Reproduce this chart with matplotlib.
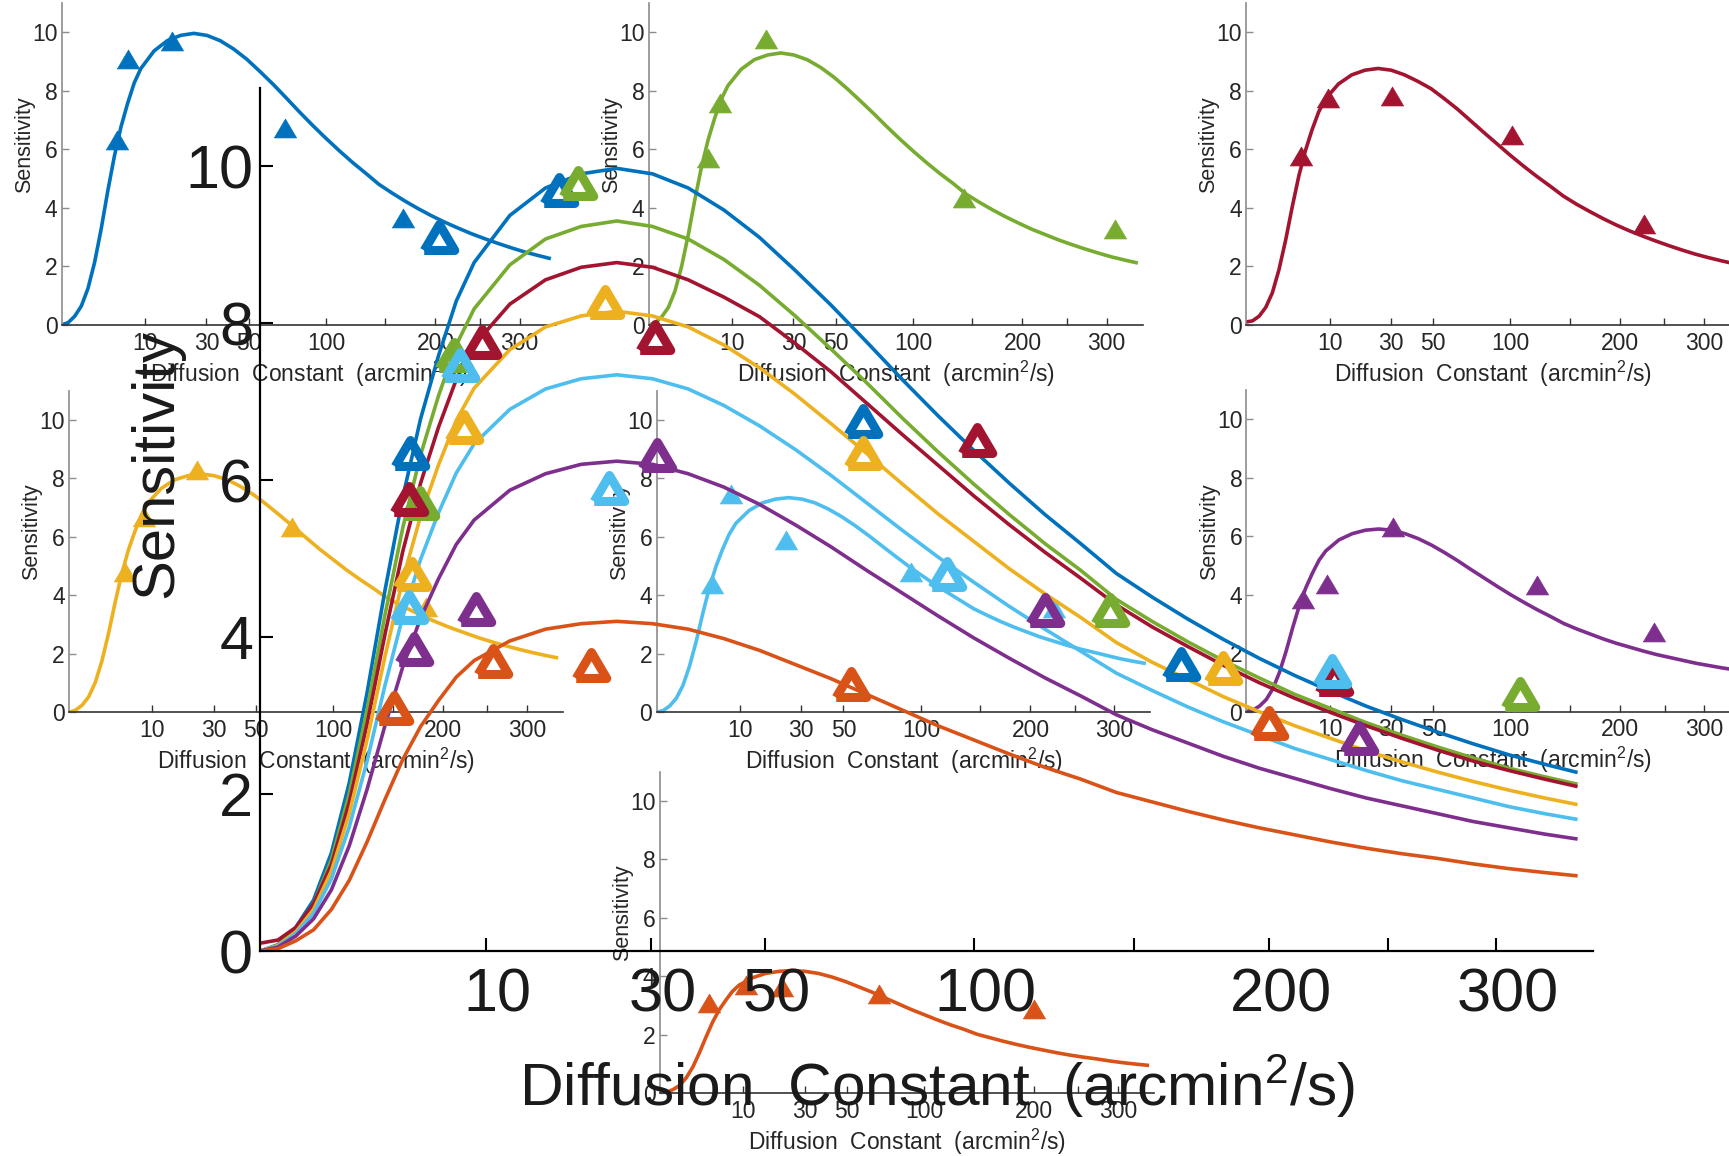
import numpy as np
import matplotlib
matplotlib.use('Agg')
import matplotlib.pyplot as plt
from matplotlib.transforms import ScaledTranslation

plt.rcParams['font.family'] = ['Liberation Sans', 'DejaVu Sans']
plt.rcParams['mathtext.fontset'] = 'custom'
plt.rcParams['mathtext.rm'] = 'Liberation Sans'
plt.rcParams['mathtext.default'] = 'regular'

# fitted curves (x = diffusion constant, arcmin^2/s)
fit_d = [0, 0.0625, 0.25, 0.5625, 1, 1.5625, 2.25, 3.0625, 4, 5.0625, 6.25, 7.5625, 9,
         12.25, 16, 20.25, 25, 30.25, 36, 42.25, 49, 56.25, 64, 72.25, 81, 90.25, 100,
         110.25, 121, 132.25, 144, 156.25, 169, 182.25, 196, 210.25, 225, 240.25, 256,
         272.25, 289, 306.25, 324, 340]
fit_blue = [0, 0.08, 0.30, 0.65, 1.25, 2.14, 3.29, 4.59, 5.78, 6.78, 7.58, 8.28, 8.77,
            9.37, 9.72, 9.90, 9.97, 9.90, 9.72, 9.44, 9.09, 8.67, 8.23, 7.76, 7.28, 6.82,
            6.38, 5.96, 5.56, 5.19, 4.81, 4.51, 4.23, 3.97, 3.73, 3.51, 3.31, 3.12, 2.95,
            2.79, 2.64, 2.50, 2.38, 2.28]
fit_green = [0, 0.07, 0.28, 0.60, 1.16, 2.00, 3.07, 4.28, 5.39, 6.32, 7.07, 7.72, 8.18,
             8.74, 9.07, 9.23, 9.30, 9.23, 9.07, 8.81, 8.48, 8.09, 7.67, 7.24, 6.79, 6.36,
             5.95, 5.56, 5.19, 4.85, 4.48, 4.20, 3.94, 3.70, 3.48, 3.27, 3.09, 2.91, 2.75,
             2.60, 2.46, 2.33, 2.22, 2.13]
fit_red = [0.10, 0.14, 0.30, 0.60, 1.10, 1.89, 2.89, 4.03, 5.09, 5.96, 6.67, 7.28, 7.72,
           8.24, 8.55, 8.71, 8.77, 8.71, 8.55, 8.33, 8.08, 7.74, 7.38, 6.98, 6.58, 6.19,
           5.80, 5.43, 5.08, 4.75, 4.41, 4.13, 3.88, 3.64, 3.42, 3.22, 3.04, 2.87, 2.71,
           2.56, 2.42, 2.30, 2.19, 2.10]
fit_yellow = [0, 0.07, 0.24, 0.53, 1.02, 1.75, 2.69, 3.75, 4.73, 5.54, 6.19, 6.76, 7.17,
              7.66, 7.95, 8.09, 8.15, 8.09, 7.95, 7.72, 7.43, 7.09, 6.72, 6.34, 5.95, 5.57,
              5.22, 4.87, 4.55, 4.25, 3.93, 3.68, 3.46, 3.24, 3.05, 2.87, 2.71, 2.55, 2.41,
              2.28, 2.16, 2.05, 1.95, 1.87]
fit_cyan = [0, 0.06, 0.22, 0.48, 0.92, 1.58, 2.42, 3.38, 4.26, 4.99, 5.58, 6.09, 6.46,
            6.90, 7.16, 7.29, 7.34, 7.29, 7.16, 6.95, 6.69, 6.39, 6.06, 5.71, 5.36, 5.02,
            4.70, 4.39, 4.10, 3.82, 3.54, 3.32, 3.11, 2.92, 2.75, 2.58, 2.44, 2.30, 2.17,
            2.06, 1.95, 1.84, 1.75, 1.68]
fit_purple = [0, 0.05, 0.19, 0.41, 0.78, 1.34, 2.06, 2.87, 3.62, 4.24, 4.74, 5.18, 5.49,
              5.87, 6.08, 6.20, 6.24, 6.20, 6.08, 5.91, 5.69, 5.43, 5.15, 4.85, 4.56, 4.27,
              3.99, 3.73, 3.48, 3.25, 3.01, 2.82, 2.65, 2.48, 2.33, 2.20, 2.07, 1.95, 1.85,
              1.75, 1.65, 1.57, 1.49, 1.43]
fit_orange = [0, 0.03, 0.13, 0.27, 0.53, 0.90, 1.39, 1.93, 2.44, 2.86, 3.19, 3.49, 3.70,
              3.95, 4.10, 4.17, 4.20, 4.17, 4.10, 3.98, 3.83, 3.65, 3.47, 3.27, 3.07, 2.87,
              2.69, 2.51, 2.34, 2.19, 2.02, 1.90, 1.78, 1.67, 1.57, 1.48, 1.39, 1.31, 1.24,
              1.18, 1.11, 1.05, 1.00, 0.96]

# measured points for each condition
pts_blue_d = [4.4, 6.3, 17.6, 71.5, 166.7]
pts_blue_s = [6.34, 9.10, 9.70, 6.75, 3.66]
pts_green_d = [5.05, 7.36, 19.8, 142, 311.6]
pts_green_s = [5.71, 7.59, 9.78, 4.34, 3.28]
pts_red_d = [4.34, 9.64, 30.6, 101, 226.5]
pts_red_s = [5.76, 7.76, 7.82, 6.51, 3.46]
pts_yellow_d = [4.56, 8.17, 23.4, 71.3, 182]
pts_yellow_s = [4.80, 6.68, 8.27, 6.34, 3.61]
pts_cyan_d = [4.34, 7.85, 23.9, 92.7, 225.6]
pts_cyan_s = [4.38, 7.47, 5.90, 4.80, 3.57]
pts_purple_d = [4.64, 9.18, 30.9, 121, 237]
pts_purple_s = [3.85, 4.36, 6.32, 4.34, 2.72]
pts_orange_d = [3.5, 10.7, 21.5, 68.5, 200]
pts_orange_s = [3.10, 3.70, 3.65, 3.40, 2.90]

x_ticks = [10, 30, 50, 100, 150, 200, 250, 300]
x_ticklabels = ['10', '30', '50', '100', '', '200', '', '300']
y_ticks = [0, 2, 4, 6, 8, 10]
x_label = 'Diffusion  Constant  (arcmin$^2$/s)'
y_label = 'Sensitivity'

series = [
    ('#0072BD', fit_blue, pts_blue_d, pts_blue_s),
    ('#77AC30', fit_green, pts_green_d, pts_green_s),
    ('#A2142F', fit_red, pts_red_d, pts_red_s),
    ('#EDB120', fit_yellow, pts_yellow_d, pts_yellow_s),
    ('#4DBEEE', fit_cyan, pts_cyan_d, pts_cyan_s),
    ('#7E2F8E', fit_purple, pts_purple_d, pts_purple_s),
    ('#D95319', fit_orange, pts_orange_d, pts_orange_s),
]

# matlab-like flat triangle
tri = [(-1, -0.85), (1, -0.85), (0, 0.85), (-1, -0.85)]


def fwd(x):
    return np.sqrt(np.maximum(x, 0))


def inv(x):
    return np.square(x)


def setup_axes(ax):
    ax.set_xscale('function', functions=(fwd, inv))
    ax.set_xlim(0, 349)
    ax.set_ylim(0, 11)
    ax.set_facecolor('none')
    ax.spines['top'].set_visible(False)
    ax.spines['right'].set_visible(False)
    ax.set_xticks(x_ticks)
    ax.set_xticklabels(x_ticklabels)
    ax.set_yticks(y_ticks)
    ax.minorticks_off()


fig = plt.figure(figsize=(17.29, 11.56), dpi=100)

# small panels, one per condition (left, bottom in figure fraction)
inset_pos = [
    (0.0356, 0.7189),
    (0.3751, 0.7189),
    (0.7206, 0.7189),
    (0.0398, 0.3838),
    (0.3797, 0.3838),
    (0.7209, 0.3845),
    (0.3816, 0.0542),
]
for (left, bottom), (col, fit, pd, ps) in zip(inset_pos, series):
    ax = fig.add_axes([left, bottom, 0.2857, 0.2783])
    setup_axes(ax)
    ax.spines['left'].set_color('#8c8c8c')
    ax.spines['bottom'].set_color('#333333')
    ax.spines['left'].set_linewidth(1.2)
    ax.spines['bottom'].set_linewidth(1.2)
    ax.tick_params(direction='in', length=5, width=1, labelsize=16.5,
                   labelcolor='#262626')
    ax.tick_params(axis='x', pad=5, color='#333333')
    ax.tick_params(axis='y', pad=3, color='#8c8c8c')
    ax.plot(fit_d, fit, color=col, lw=2.6, zorder=2)
    ax.plot(pd, ps, ls='none', marker=tri, ms=16, color=col, mew=0.5, zorder=3)
    ax.text(0.5, -0.176, x_label, transform=ax.transAxes, ha='center',
            va='baseline', fontsize=16.5, color='#262626')
    ax.text(-0.064, 0.56, y_label, transform=ax.transAxes, rotation=90,
            rotation_mode='anchor', ha='center', va='baseline', fontsize=15.5,
            color='#262626')

# big panel with all conditions, drawn on top
main = fig.add_axes([0.1504, 0.1773, 0.771, 0.747])
setup_axes(main)
for sp in ['left', 'bottom']:
    main.spines[sp].set_linewidth(1.6)
    main.spines[sp].set_color('black')
main.tick_params(direction='in', length=9.5, width=1.5, labelsize=44,
                 color='black', labelcolor='#1a1a1a')
main.tick_params(axis='x', pad=12)
main.tick_params(axis='y', pad=5)
# tick labels sit a bit right of their ticks in the original
shift = ScaledTranslation(0.12, 0, fig.dpi_scale_trans)
for lab in main.get_xticklabels():
    lab.set_transform(lab.get_transform() + shift)
for col, fit, pd, ps in series:
    main.plot(fit_d, fit, color=col, lw=2.6, zorder=2)
for col, fit, pd, ps in series:
    main.plot(pd, ps, ls='none', marker=tri, ms=22, mfc='none', mec=col,
              mew=6.5, zorder=3)
main.text(0.508, -0.1795, x_label, transform=main.transAxes, ha='center',
          va='baseline', fontsize=43.5, color='#1a1a1a')
main.text(-0.066, 0.565, y_label, transform=main.transAxes, rotation=90,
          rotation_mode='anchor', ha='center', va='baseline', fontsize=43,
          color='#1a1a1a')

fig.savefig('out.png', dpi=100)
